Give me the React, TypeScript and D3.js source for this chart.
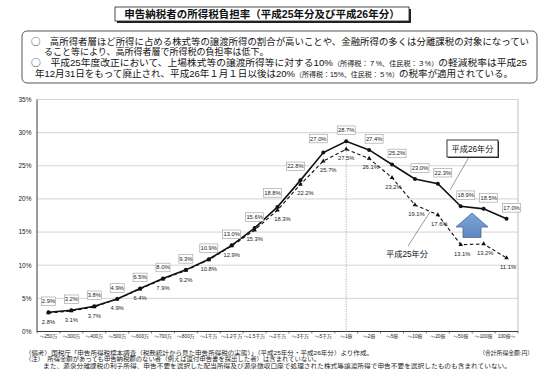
import React from 'react';
import * as d3 from 'd3';

const categories = ['～250万', '～300万', '～400万', '～500万', '～600万', '～700万', '～800万', '～1千万', '～1.2千万', '～1.5千万', '～2千万', '～3千万', '～5千万', '～1億', '～2億', '～5億', '～10億', '～20億', '～50億', '～100億', '100億～'];
const seriesH26 = [2.9, 3.2, 3.8, 4.9, 6.5, 8.0, 9.3, 10.9, 13.0, 15.6, 18.8, 22.8, 27.0, 28.7, 27.4, 25.2, 23.0, 22.3, 18.9, 18.5, 17.0];
const seriesH25 = [2.8, 3.1, 3.7, 4.9, 6.4, 7.9, 9.2, 10.8, 12.9, 15.3, 18.3, 22.2, 25.7, 27.5, 26.1, 23.2, 19.1, 17.6, 13.1, 13.2, 11.1];
const yTicks = [0, 5, 10, 15, 20, 25, 30, 35];
const peakCategory = '～1億';

const titleText = '申告納税者の所得税負担率（平成25年分及び平成26年分）';
const legendH26 = '平成26年分';
const legendH25 = '平成25年分';
const unitNote = '（合計所得金額:円）';
const footnotes = [
  '（備考）国税庁「申告所得税標本調査（税務統計から見た申告所得税の実態）」（平成25年分・平成26年分）より作成。',
  '（注）　所得金額があっても申告納税額のない者（例えば還付申告書を提出した者）は含まれていない。',
  'また、源泉分離課税の利子所得、申告不要を選択した配当所得及び源泉徴収口座で処理された株式等譲渡所得で申告不要を選択したものも含まれていない。',
];

const FONT = "'Liberation Sans', 'Noto Sans CJK JP', sans-serif";
const CJK = "'Noto Sans CJK JP', sans-serif";

export default function App() {
  const W = 550, H = 388;
  const x = d3.scaleBand<string>().domain(categories).range([37, 518]).paddingInner(0).paddingOuter(0);
  const y = d3.scaleLinear().domain([0, 35]).range([331.5, 99.5]);
  const cx = (i: number) => (x(categories[i]) as number) + x.bandwidth() / 2;

  const line = d3.line<number>().x((_, i) => cx(i)).y((d) => y(d));
  const fmt = (v: number) => v.toFixed(1) + '%';

  const tri = d3.symbol().type(d3.symbolTriangle).size(9)();

  const h26dx = (i: number) => (i >= 10 && i <= 12 ? -5 : i > 13 ? 5 : 0);
  const h26dy = (i: number) => (i >= 10 && i <= 12 ? -14 : -11);
  const h25dx = (i: number) => (i >= 10 && i <= 12 ? 5 : i > 13 ? 1.5 : 0);

  const peakX = (x(peakCategory) as number) + x.bandwidth() / 2;

  return (
    <svg width={W} height={H} style={{ position: 'absolute', left: 0, top: 0, background: '#fff' }} fontFamily={FONT}>
      {/* title */}
      <rect x={117} y={9} width={294} height={14} fill="#222" />
      <rect x={115} y={7} width={294} height={14} fill="#fff" stroke="#222" strokeWidth={0.8} />
      <text x={262} y={17.8} textAnchor="middle" fontSize={10.5} fontWeight={700} fill="#111">{titleText}</text>

      {/* text box */}
      <rect x={22} y={31} width={515} height={52} rx={5} fill="#fff" stroke="#444" strokeWidth={0.9} />
      <text fontSize={9} fill="#111">
        <tspan x={31} y={44.5} textLength={498} lengthAdjust="spacingAndGlyphs"><tspan fontFamily={CJK}>○</tspan>　高所得者層ほど所得に占める株式等の譲渡所得の割合が高いことや、金融所得の多くは分離課税の対象になってい</tspan>
        <tspan x={44} y={55}>ること等により、高所得者層で所得税の負担率は低下。</tspan>
        <tspan x={31} y={65.8} textLength={496} lengthAdjust="spacingAndGlyphs"><tspan fontFamily={CJK}>○</tspan>　平成25年度改正において、上場株式等の譲渡所得等に対する10%<tspan fontSize={6.6}>（所得税：７%、住民税：３%）</tspan>の軽減税率は平成25</tspan>
        <tspan x={35} y={76.6} textLength={478} lengthAdjust="spacingAndGlyphs">年12月31日をもって廃止され、平成26年１月１日以後は20%<tspan fontSize={6.6}>（所得税：15%、住民税：５%）</tspan>の税率が適用されている。</tspan>
      </text>

      {/* gridlines */}
      {yTicks.filter((t) => t > 0).map((t) => (
        <line key={t} x1={37} x2={518} y1={y(t)} y2={y(t)} stroke="#c8c8c8" strokeWidth={0.8} />
      ))}
      <line x1={518} x2={518} y1={y(35)} y2={y(0)} stroke="#b0b0b0" strokeWidth={0.8} />
      {/* y axis */}
      <line x1={37} x2={37} y1={y(35)} y2={y(0)} stroke="#222" strokeWidth={0.9} />
      {yTicks.map((t) => (
        <text key={t} x={31.5} y={y(t) + 2.3} textAnchor="end" fontSize={6.5} fill="#222">{t}%</text>
      ))}
      {/* x axis */}
      <line x1={37} x2={518} y1={y(0)} y2={y(0)} stroke="#222" strokeWidth={0.9} />
      {categories.map((c, i) => (
        <line key={'t' + i} x1={x(c) as number} x2={x(c) as number} y1={y(0)} y2={y(0) + 2} stroke="#222" strokeWidth={0.6} />
      ))}
      <line x1={518} x2={518} y1={y(0)} y2={y(0) + 2} stroke="#222" strokeWidth={0.6} />
      {categories.map((c, i) => (
        <text key={'x' + i} x={cx(i)} y={337.8} textAnchor="middle" fontSize={4.8} fill="#222">{c}</text>
      ))}

      {/* peak dotted line */}
      <line x1={peakX} x2={peakX} y1={y(seriesH26[13])} y2={y(0)} stroke="#888" strokeWidth={0.8} strokeDasharray="1,1.5" />

      {/* H25 dashed */}
      <path d={line(seriesH25) as string} fill="none" stroke="#111" strokeWidth={1.1} strokeDasharray="3.5,2.5" />
      {seriesH25.map((v, i) => (
        <path key={'m25' + i} d={tri as string} transform={`translate(${cx(i)},${y(v)})`} fill="#111" />
      ))}
      {/* H26 solid */}
      <path d={line(seriesH26) as string} fill="none" stroke="#111" strokeWidth={1.6} />
      {seriesH26.map((v, i) => (
        <circle key={'m26' + i} cx={cx(i)} cy={y(v)} r={2} fill="#111" />
      ))}

      {/* H25 labels */}
      {seriesH25.map((v, i) => (
        <text key={'l25' + i} x={cx(i) + h25dx(i)} y={y(v) + 9 + 2} textAnchor="middle" fontSize={5.8} fill="#222">{fmt(v)}</text>
      ))}
      {/* H26 labels (boxed) */}
      {seriesH26.map((v, i) => {
        const lx = cx(i) + h26dx(i);
        const ly = y(v) + h26dy(i);
        const w = fmt(v).length > 4 ? 18 : 14;
        return (
          <g key={'l26' + i}>
            <rect x={lx - w / 2} y={ly - 4.3} width={w} height={8.6} fill="#fff" stroke="#9a9a9a" strokeWidth={0.6} />
            <text x={lx} y={ly + 2} textAnchor="middle" fontSize={5.8} fill="#222">{fmt(v)}</text>
          </g>
        );
      })}

      {/* legend callouts */}
      <line x1={469} y1={157} x2={450} y2={190} stroke="#555" strokeWidth={0.6} />
      <rect x={448} y={141} width={51} height={17} fill="#333" />
      <rect x={447} y={140} width={51} height={17} fill="#fff" stroke="#222" strokeWidth={0.9} />
      <text x={472.5} y={151.8} textAnchor="middle" fontSize={8.2} fill="#111">{legendH26}</text>
      <line x1={408} y1={246} x2={430} y2={212} stroke="#555" strokeWidth={0.6} />
      <text x={407} y={257} textAnchor="middle" fontSize={8.2} fill="#111">{legendH25}</text>

      {/* arrow */}
      <defs>
        <linearGradient id="arrowGrad" x1="0" y1="0" x2="0" y2="1">
          <stop offset="0" stopColor="#7ea4d6" />
          <stop offset="1" stopColor="#5c87c2" />
        </linearGradient>
      </defs>
      <polygon points="472,213 488,227 481,227 481,237.5 463,237.5 463,227 456,227" fill="url(#arrowGrad)" stroke="#4a6a98" strokeWidth={0.8} />

      {/* footnotes */}
      <text fontSize={5.8} fill="#222">
        <tspan x={25} y={354.5} textLength={348} lengthAdjust="spacingAndGlyphs">{footnotes[0]}</tspan>
        <tspan x={25} y={361} textLength={295} lengthAdjust="spacingAndGlyphs">{footnotes[1]}</tspan>
        <tspan x={43} y={367.5} textLength={468} lengthAdjust="spacingAndGlyphs">{footnotes[2]}</tspan>
      </text>
      <text x={533} y={354.5} textAnchor="end" fontSize={5.8} fill="#222">{unitNote}</text>
    </svg>
  );
}
